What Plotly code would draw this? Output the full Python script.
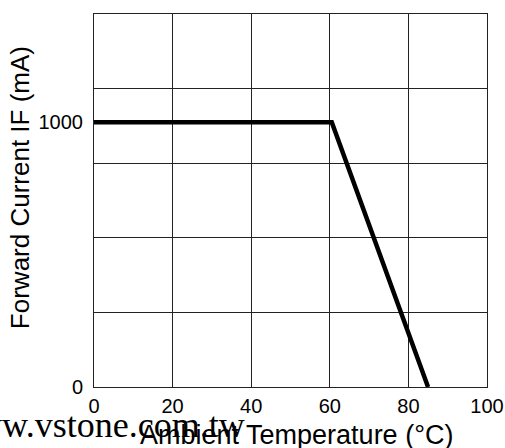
import plotly.graph_objects as go

# Data
temperature_c = [0, 60.5, 85]
forward_current_ma = [1000, 1000, 0]

x_tick_vals = [0, 20, 40, 60, 80, 100]
x_tick_text = ["0", "20", "40", "60", "80", "100"]
y_tick_vals = [0, 1000]
y_tick_text = ["0", "1000"]

x_title = "Ambient Temperature (°C)"
y_title = "Forward Current IF (mA)"
watermark = "www.vstone.com.tw"

Y_MAX = 1409
Y_GRID_STEP = Y_MAX / 5

fig = go.Figure()
fig.add_trace(go.Scatter(
    x=temperature_c, y=forward_current_ma, mode="lines",
    line=dict(color="black", width=4.5), showlegend=False, hoverinfo="skip",
))

font_sans = "Liberation Sans, Arial, sans-serif"

fig.update_layout(
    width=505, height=448,
    margin=dict(l=94, r=18, t=14, b=61, autoexpand=False),
    paper_bgcolor="white", plot_bgcolor="white",
    font=dict(family=font_sans, color="black", size=20),
    xaxis=dict(
        range=[0, 100], tickvals=x_tick_vals, ticktext=x_tick_text,
        showgrid=True, gridcolor="#222", gridwidth=1,
        showline=True, linecolor="#222", linewidth=1, mirror=True,
        ticks="", zeroline=False, ticklabelstandoff=1, automargin=False,
        tickfont=dict(size=20, family=font_sans, color="black"),
    ),
    yaxis=dict(
        range=[0, Y_MAX], tickvals=y_tick_vals, ticktext=y_tick_text,
        showgrid=False, zeroline=False, automargin=False,
        minor=dict(tick0=0, dtick=Y_GRID_STEP, showgrid=True, gridcolor="#222", gridwidth=1, ticks=""),
        showline=True, linecolor="#222", linewidth=1, mirror=True,
        ticks="", ticklabelstandoff=6,
        tickfont=dict(size=20, family=font_sans, color="black"),
    ),
)

fig.add_annotation(
    text=watermark, xref="paper", yref="paper", x=0.39, y=-0.102,
    xanchor="right", yanchor="middle", showarrow=False,
    font=dict(family="Liberation Serif, Times New Roman, serif", size=36, color="black"),
)
fig.add_annotation(
    text=x_title, xref="paper", yref="paper", x=0.5165, y=-0.128,
    xanchor="center", yanchor="middle", showarrow=False,
    font=dict(family=font_sans, size=27, color="black"),
)
fig.add_annotation(
    text=y_title, xref="paper", yref="paper", x=-0.19, y=0.534,
    xanchor="center", yanchor="middle", showarrow=False, textangle=-90,
    font=dict(family=font_sans, size=26, color="black"),
)

fig.write_html("out.html")
